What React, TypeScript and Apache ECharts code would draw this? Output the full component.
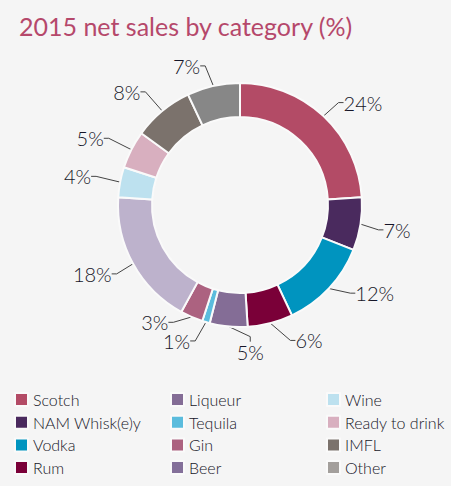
import React, { useEffect, useRef } from "react";
import * as echarts from "echarts";

const categories = [
  "Scotch", "NAM Whisk(e)y", "Vodka", "Rum", "Liqueur", "Tequila",
  "Gin", "Beer", "Wine", "Ready to drink", "IMFL", "Other",
];
const values = [24, 7, 12, 6, 5, 1, 3, 18, 4, 5, 8, 7];
const sliceColors = [
  "#b34b66", "#4a2a5e", "#0094bf", "#7a0038", "#846d96", "#5bbcdd",
  "#ac6280", "#bdb2cc", "#bde1ef", "#d8afbf", "#7b726c", "#878787",
];
const legendColors = [
  "#b34b66", "#4a2a5e", "#0094bf", "#7a0038", "#846d96", "#5bbcdd",
  "#ac6280", "#84709a", "#bde1ef", "#d8afbf", "#7b726c", "#a39f9c",
];
const legendColumns = [
  [0, 1, 2, 3],
  [4, 5, 6, 7],
  [8, 9, 10, 11],
];
const columnLeft = [14, 170, 326];

// label placement: angular shift (deg) from the slice's mid-angle, and distance from centre
const labelAngleShift = [-7, 0, 10, 12.6, 9.4, -8.8, -12.6, -3.8, 0.8, 3, 5.4, 8.4];
const labelRadius = [160, 159, 161, 152, 147, 150, 145, 163, 165, 164, 160, 149];

const CX = 240;
const CY = 205;

export default function App() {
  const ref = useRef<HTMLDivElement>(null);
  useEffect(() => {
    if (!ref.current) return;
    const chart = echarts.init(ref.current, null, { renderer: "svg" });
    const font = "Lato, 'Open Sans', sans-serif";
    const total = values.reduce((a, b) => a + b, 0);
    const cum: number[] = [];
    values.reduce((acc, v, i) => {
      cum[i] = acc + v / 2;
      return acc + v;
    }, 0);
    chart.setOption({
      animation: false,
      backgroundColor: "#f5f5f5",
      title: {
        text: "2015 net sales by category (%)",
        left: 14,
        top: 8,
        textStyle: {
          color: "#b5486b",
          fontSize: 25,
          fontWeight: "normal",
          fontFamily: font,
        },
      },
      legend: legendColumns.map((col, i) => ({
        orient: "vertical",
        left: columnLeft[i],
        top: 391.5,
        padding: 0,
        itemWidth: 13,
        itemHeight: 13,
        itemGap: 6.7,
        icon: "rect",
        selectedMode: false,
        textStyle: {
          color: "#151528",
          fontSize: 16,
          lineHeight: 16,
          fontWeight: 300,
          fontFamily: font,
        },
        data: col.map((k) => ({
          name: categories[k],
          itemStyle: { color: legendColors[k] },
        })),
      })),
      series: [
        {
          type: "pie",
          center: [CX, CY],
          radius: [88, 122],
          startAngle: 90,
          clockwise: true,
          itemStyle: { borderColor: "#fafafa", borderWidth: 2 },
          label: {
            show: true,
            formatter: "{c}%",
            color: "#151528",
            fontSize: 20,
            fontWeight: 300,
            fontFamily: font,
            padding: [1, 3],
          },
          labelLine: {
            show: true,
            length: 6,
            length2: 5,
            lineStyle: { color: "#444", width: 1 },
          },
          labelLayout: (params: any) => {
            const i = params.dataIndex;
            const ang =
              ((90 - (cum[i] / total) * 360 + labelAngleShift[i]) * Math.PI) / 180;
            const r = labelRadius[i];
            return {
              x: CX + r * Math.cos(ang),
              y: CY - r * Math.sin(ang),
              align: "center",
              verticalAlign: "middle",
            };
          },
          data: categories.map((name, i) => ({
            name,
            value: values[i],
            itemStyle: { color: sliceColors[i] },
          })),
        },
      ],
    });
    return () => chart.dispose();
  }, []);
  return (
    <div
      ref={ref}
      style={{ position: "fixed", left: 0, top: 0, width: 451, height: 486 }}
    />
  );
}
